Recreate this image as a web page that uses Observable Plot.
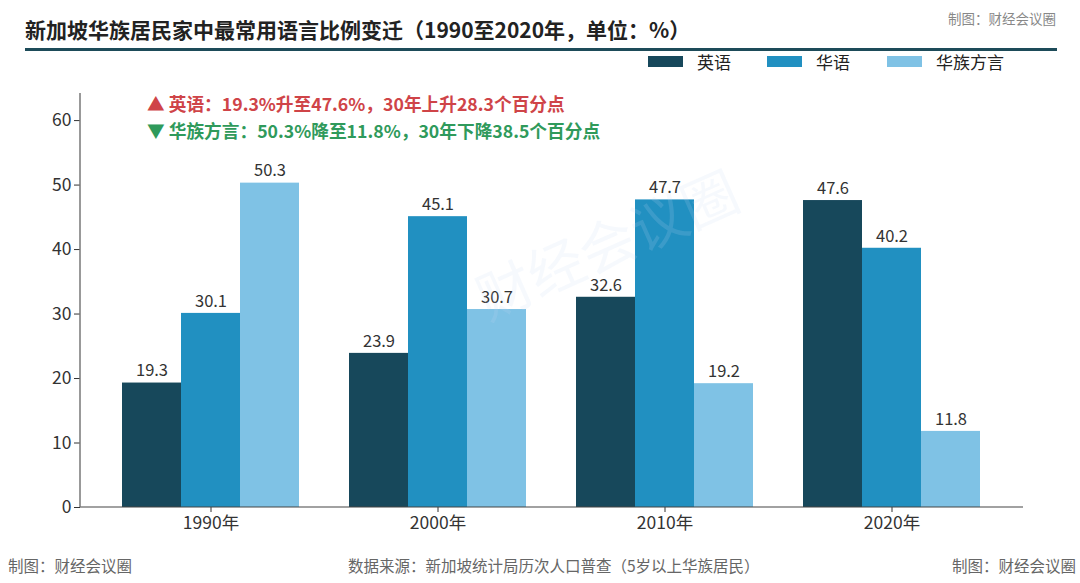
<!DOCTYPE html>
<html>
<head>
<meta charset="utf-8">
<script src="https://cdn.jsdelivr.net/npm/d3@7"></script>
<script src="https://cdn.jsdelivr.net/npm/@observablehq/plot@0.6"></script>
<style>
  html, body { margin: 0; padding: 0; background: #fff; }
  body { width: 1080px; height: 583px; overflow: hidden; font-family: "Noto Sans CJK SC", "Noto Sans", sans-serif; }
  #wrap { position: relative; width: 1080px; height: 583px; }
  .abs { position: absolute; white-space: nowrap; }
  #title { left: 25px; top: 14px; font-size: 21px; font-weight: 700; color: #222; }
  #rule { left: 25px; top: 48px; width: 1032px; height: 3px; background: #1d4b59; }
  .mark { color: #888; font-size: 13.5px; }
  .foot { color: #666; font-size: 15.5px; top: 554px; }
  #legend { left: 648px; top: 50px; height: 22px; font-size: 17px; color: #222; }
  .lg { position: absolute; top: 0; display: flex; align-items: center; height: 22px; }
  .sw { width: 35px; height: 11px; margin-right: 14px; }
  .ann { left: 147px; font-size: 17.7px; font-weight: 700; }
  #chart { position: absolute; left: 0; top: 80px; }
  #wm { left: 478px; top: 258px; font-size: 56px; color: rgba(200,220,240,0.16); transform: rotate(-24deg); transform-origin: left center; pointer-events: none; font-weight: 400; }
</style>
</head>
<body>
<div id="wrap">
  <div class="abs mark" style="left:948px; top:8px;">制图：财经会议圈</div>
  <div class="abs" id="title">新加坡华族居民家中最常用语言比例变迁（1990至2020年，单位：%）</div>
  <div class="abs" id="rule"></div>
  <div class="abs" id="legend"></div>
  <div id="chart"></div>
  <div class="abs ann" id="ann1" style="top:90px; color:#cf4448;"></div>
  <div class="abs ann" id="ann2" style="top:117px; color:#2f9a5b;"></div>
  <div class="abs" id="wm">财经会议圈</div>
  <div class="abs foot" style="left:8px;">制图：财经会议圈</div>
  <div class="abs foot" style="left:348px;">数据来源：新加坡统计局历次人口普查（5岁以上华族居民）</div>
  <div class="abs foot" style="left:952px;">制图：财经会议圈</div>
</div>
<script>
const years = ["1990年", "2000年", "2010年", "2020年"];
const series = ["英语", "华语", "华族方言"];
const colors = ["#17485b", "#2190c1", "#7fc2e5"];
const english = [19.3, 23.9, 32.6, 47.6];
const mandarin = [30.1, 45.1, 47.7, 40.2];
const dialect = [50.3, 30.7, 19.2, 11.8];
const yTicks = [0, 10, 20, 30, 40, 50, 60];
const annotation1 = "▲ 英语：19.3%升至47.6%，30年上升28.3个百分点";
const annotation2 = "▼ 华族方言：50.3%降至11.8%，30年下降38.5个百分点";

const values = [english, mandarin, dialect];
const data = [];
years.forEach((yr, i) => {
  series.forEach((s, j) => data.push({year: yr, series: s, value: values[j][i]}));
});

document.getElementById("ann1").textContent = annotation1;
document.getElementById("ann2").textContent = annotation2;

// legend
const legend = document.getElementById("legend");
const lgOffsets = [0, 119, 239];
series.forEach((s, j) => {
  const item = document.createElement("div");
  item.className = "lg";
  item.style.left = lgOffsets[j] + "px";
  item.innerHTML = `<div class="sw" style="background:${colors[j]}"></div><span>${s}</span>`;
  legend.appendChild(item);
});

const width = 1080, height = 460;
const marginLeft = 80, marginRight = 57, marginTop = 13, marginBottom = 33;

const plot = Plot.plot({
  width, height, marginLeft, marginRight, marginTop, marginBottom,
  style: {fontFamily: "'Noto Sans CJK SC', 'Noto Sans', sans-serif", fontSize: "16px", color: "#333", background: "transparent", overflow: "visible"},
  fx: {domain: years, paddingInner: 0.22, paddingOuter: 0.187, axis: "bottom", label: null, tickSize: 5, tickPadding: 4},
  x: {domain: series, padding: 0, axis: null},
  y: {domain: [0, 64.2], ticks: yTicks, tickSize: 6, tickPadding: 3, label: null},
  color: {domain: series, range: colors},
  marks: [
    Plot.barY(data, {fx: "year", x: "series", y: "value", fill: "series"}),
    Plot.text(data, {fx: "year", x: "series", y: "value", text: d => d.value.toFixed(1), dy: -12, fontSize: 16.5, fill: "#333"})
  ]
});
document.getElementById("chart").appendChild(plot);

const svg = d3.select(plot);
// enlarge axis tick labels (everything except the bar value labels)
svg.selectAll("text").filter(function() { return !this.closest("g[aria-label='text']"); })
  .style("font-size", "17.5px");

// move the y axis from the first facet's edge to the plot's left edge
const fxS = plot.scale("fx");
const shift = fxS.apply(years[0]) - marginLeft;
const yAxisNodes = svg.selectAll("g[aria-label^='y-axis']").nodes();
if (yAxisNodes.length && shift > 0) {
  const holder = svg.append("g").attr("transform", `translate(${-shift},0)`);
  yAxisNodes.forEach(n => holder.node().appendChild(n));
}

// axis lines spanning the full plot area, positioned through the plot's scales
const yS = plot.scale("y");
const y0 = yS.apply(0);
const yTop = yS.apply(yS.domain[1]);
svg.append("line").attr("x1", marginLeft).attr("x2", width - marginRight).attr("y1", y0).attr("y2", y0).attr("stroke", "#444").attr("stroke-width", 1.2);
svg.append("line").attr("x1", marginLeft).attr("x2", marginLeft).attr("y1", yTop).attr("y2", y0).attr("stroke", "#777").attr("stroke-width", 1.5);
</script>
</body>
</html>
